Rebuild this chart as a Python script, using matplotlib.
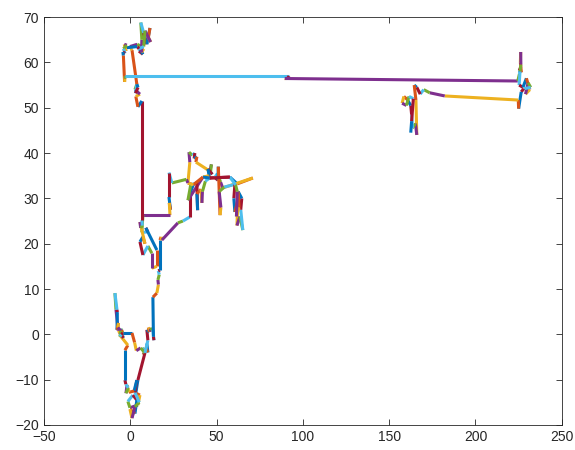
import numpy as np
import matplotlib
matplotlib.use("Agg")
import matplotlib.pyplot as plt

# Random-walk trajectory, split into regions for readability.
south_x = [9.6, 10.2, 9.0, 7.5, 8.5, 7.0, 8.5, 4.4, 3.2, 5.6, 4.4, -0.2, -1.4, 1.5, 3.8, 2.7,
           -0.2, 1.0, 2.7, 5.2, 2.7, 3.8, 2.2, -0.8, -1.9, -2.5, -1.2, -2.6, -3.1, -3.1, -1.4,
           -6.0, -4.3, -5.5, -4.0, -6.3, -5.0, -4.6, -7.0, -8.3, -8.9, -7.7, -7.5, -7.7, -6.8,
           -7.2, -5.5, -6.0, -5.2, -4.3, 1.0, 2.5, 3.5, 6.0, 8.5, 10.2, 9.6, 11.0, 10.5, 12.0,
           11.5, 13.1, 13.7, 13.4, 13.1, 15.4, 16.3, 16.0, 16.8, 16.2, 17.2, 17.2, 17.8, 18.3]
south_y = [-2.0, -4.0, -3.0, -4.5, -4.1, -3.0, -4.1, -10.1, -13.0, -13.4, -15.6, -16.2, -14.8,
           -13.4, -14.5, -17.5, -16.5, -18.5, -16.0, -15.0, -12.8, -10.1, -12.5, -12.8, -11.2,
           -13.0, -11.8, -11.0, -10.1, -3.5, -2.4, -0.2, 0.3, 1.2, -0.8, 0.5, 1.0, -0.2, 0.8,
           5.5, 9.1, 5.4, 4.9, 1.0, 2.5, 1.5, 0.8, -0.5, 0.0, 0.3, 0.3, -1.8, -3.6, -3.0, -4.1,
           -1.3, 1.0, 0.5, 1.5, 0.6, 1.3, 1.0, -1.3, -0.5, 8.2, 9.1, 11.0, 12.0, 13.2, 14.0,
           14.2, 20.8, 21.5, 20.8]

center_x = [27.6, 30.5, 34.5, 34.5, 36.5, 33.4, 34.5, 34.0, 36.0, 37.4, 37.0, 38.6, 38.0, 46.1,
            47.0, 46.5, 47.5, 45.0, 46.0, 45.5, 42.1, 33.4, 35.0, 38.6, 39.0, 38.6, 41.0, 41.5,
            41.8, 43.5, 46.0, 57.7, 62.0, 71.0, 53.6, 52.3, 50.5, 49.0, 50.8, 51.0, 52.0, 52.5,
            51.5, 54.5, 60.6, 60.0, 60.6, 62.3, 61.8, 63.5, 65.2, 64.0, 64.6, 62.5, 63.0, 61.5,
            62.0, 61.0, 57.7, 46.0, 42.1, 36.5, 33.4, 32.5, 24.1, 22.4, 22.4, 23.3, 22.6, 23.0,
            7.3, 6.7, 10.2, 9.0, 15.4, 15.4, 12.5, 12.5, 10.2, 7.3, 5.6, 7.3, 8.5, 5.6, 6.0,
            7.0, 6.7]
center_y = [24.6, 25.0, 25.9, 31.0, 33.0, 33.4, 38.0, 40.2, 39.5, 40.0, 38.8, 39.2, 38.0, 36.0,
            37.5, 35.8, 35.3, 36.5, 34.2, 35.0, 34.7, 29.6, 33.0, 33.4, 27.4, 31.0, 32.0, 29.0,
            31.5, 33.8, 34.5, 34.7, 33.2, 34.5, 32.3, 33.6, 35.5, 34.6, 34.0, 37.0, 26.3, 28.0,
            31.5, 32.5, 33.1, 30.0, 27.0, 29.5, 24.0, 26.0, 23.0, 27.5, 30.0, 31.5, 28.0, 26.0,
            31.5, 33.0, 34.7, 34.5, 34.7, 33.0, 33.4, 34.2, 33.4, 35.7, 30.3, 27.5, 29.0, 26.3,
            26.3, 22.5, 22.6, 23.5, 18.6, 15.0, 14.6, 17.9, 19.5, 17.5, 20.4, 21.5, 20.0, 24.8,
            23.5, 24.0, 25.2]

north_x = [6.7, 4.4, 3.2, 5.6, 2.7, 3.8, 3.0, 4.5, 3.8, 1.0, -0.2, 4.0, 6.7, 5.0, 7.3, 6.0,
           7.8, 6.5, 6.7, 6.1, 7.8, 9.6, 11.4, 10.5, 11.8, 8.5, 7.8, 5.0, 4.0, -3.1, -2.5, -3.5,
           -2.0, -4.0, -3.0, -4.3, -4.0, -3.3, -3.0, -2.5, -3.1, 92.0, 91.0, 90.5, 90.0, 89.5]
north_y = [51.5, 50.2, 52.5, 53.0, 54.0, 55.2, 53.2, 54.5, 55.2, 62.7, 63.5, 64.0, 63.5, 62.5,
           61.8, 62.8, 63.0, 62.2, 65.0, 68.8, 66.5, 64.0, 67.6, 65.5, 64.5, 67.0, 63.5, 63.0,
           63.5, 63.2, 62.5, 64.0, 63.8, 63.0, 62.0, 62.3, 61.5, 55.7, 57.0, 56.5, 57.0, 57.0,
           56.4, 56.5, 56.4, 56.45]

east_x = [224.5, 225.5, 226.2, 225.4, 226.6, 226.0, 226.2, 226.3, 225.8, 225.3, 227.5, 229.5,
          231.5, 229.0, 230.5, 232.0, 228.0, 226.5, 225.0, 224.8, 182.2, 173.5, 170.0, 168.0,
          166.0, 164.5, 165.5, 166.0, 165.2, 163.5, 163.0, 162.5, 160.5, 158.5, 157.5, 160.0,
          161.5, 164.0, 163.0, 162.5]
east_y = [55.9, 57.5, 59.0, 58.2, 57.8, 60.0, 62.3, 59.5, 58.0, 55.0, 54.5, 56.5, 54.0, 53.0,
          55.5, 54.5, 54.2, 53.5, 49.8, 51.7, 52.6, 53.3, 54.0, 53.0, 54.5, 55.0, 51.7, 44.0,
          46.5, 45.5, 48.5, 50.5, 51.8, 52.5, 51.0, 50.5, 52.5, 52.0, 47.0, 44.5]

x_ticks = [-50, 0, 50, 100, 150, 200, 250]
y_ticks = [-20, -10, 0, 10, 20, 30, 40, 50, 60, 70]

# MATLAB default line colour order
color_order = ["#0072BD", "#D95319", "#EDB120", "#7E2F8E", "#77AC30", "#4DBEEE", "#A2142F"]

px = np.array(south_x + center_x + north_x + east_x)
py = np.array(south_y + center_y + north_y + east_y)

plt.rcParams["font.family"] = ["Liberation Sans", "DejaVu Sans"]
fig = plt.figure(figsize=(5.75, 4.5), dpi=100)
ax = fig.add_axes([0.0765, 0.0556, 0.9005, 0.9064])

for i in range(len(px) - 1):
    ax.plot(px[i:i + 2], py[i:i + 2], color=color_order[i % len(color_order)],
            lw=2.2, solid_capstyle="butt")

ax.set_xlim(-50, 250)
ax.set_ylim(-20, 70)
ax.set_xticks(x_ticks)
ax.set_yticks(y_ticks)
ax.tick_params(direction="in", length=4, width=0.6, colors="#262626",
               labelsize=10, top=True, right=True, labeltop=False, labelright=False)
for s in ax.spines.values():
    s.set_linewidth(0.6)
    s.set_color("#262626")

fig.savefig("out.png", dpi=100)
